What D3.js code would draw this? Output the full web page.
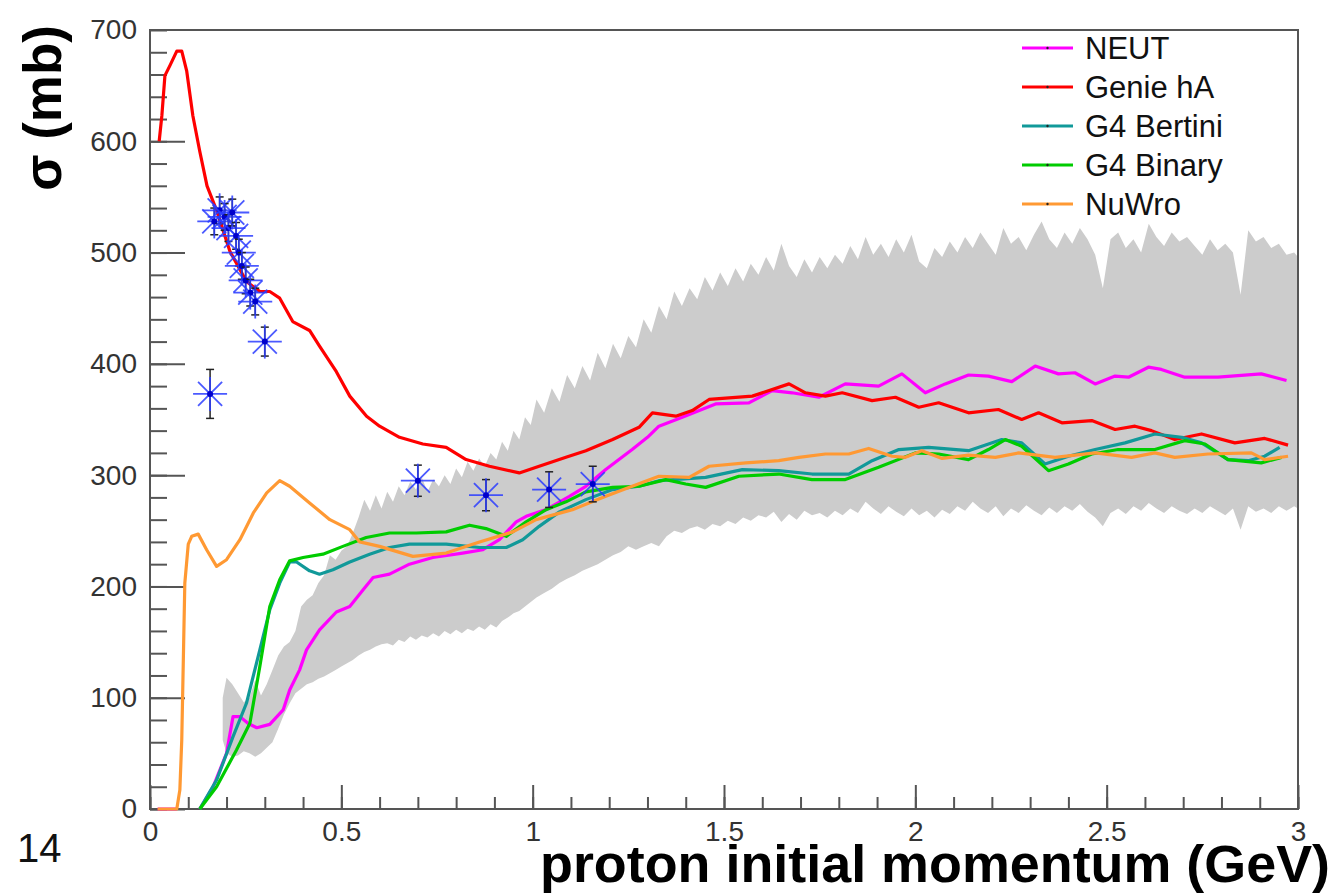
<!DOCTYPE html>
<html>
<head>
<meta charset="utf-8">
<script src="https://cdn.jsdelivr.net/npm/d3@7"></script>
<style>
  body { margin: 0; background: #fff; }
  svg { display: block; }
</style>
</head>
<body>
<script>
// x = proton momentum (GeV), y = sigma (mb)
var neut = [[0.02,0],[0.07,0],[0.1,null],[0.13,0],[0.165,20],[0.2,50],[0.217,83],[0.235,83],[0.256,77],[0.279,73],[0.313,76],
  [0.348,89],[0.365,107],[0.391,125],[0.409,143],[0.443,161],[0.487,177],[0.522,182],[0.557,197],[0.583,208],[0.626,211],
  [0.678,220],[0.739,226],[0.817,230],[0.87,233],[0.913,242],[0.957,258],[0.983,263],[1.035,269],[1.096,281],[1.139,290],
  [1.191,305],[1.26,323],[1.30,334],[1.33,344],[1.391,352],[1.478,364],[1.565,365],[1.626,376],[1.678,374],[1.748,370],
  [1.817,382],[1.904,380],[1.965,391],[2.026,374],[2.078,382],[2.139,390],[2.191,389],[2.252,384],[2.313,398],[2.374,391],
  [2.417,392],[2.470,382],[2.522,389],[2.557,388],[2.609,397],[2.643,395],[2.704,388],[2.791,388],[2.904,391],[2.970,385]];

var genie = [[0.024,600],[0.031,623],[0.039,659],[0.052,668],[0.07,681],[0.083,681],[0.096,663],[0.112,623],[0.13,591],
  [0.149,560],[0.175,537],[0.209,501],[0.252,474],[0.287,465],[0.313,465],[0.339,459],[0.373,438],[0.417,430],[0.443,416],
  [0.487,393],[0.522,371],[0.566,353],[0.60,344],[0.652,334],[0.713,328],[0.774,325],[0.826,314],[0.887,308],[0.965,302],
  [1.017,308],[1.087,316],[1.139,322],[1.209,332],[1.278,343],[1.313,356],[1.374,353],[1.417,358],[1.461,368],[1.574,371],
  [1.670,382],[1.713,374],[1.765,371],[1.809,374],[1.887,367],[1.948,370],[2.009,361],[2.061,365],[2.139,356],[2.217,359],
  [2.278,350],[2.322,356],[2.383,347],[2.461,349],[2.522,341],[2.574,344],[2.617,340],[2.678,332],[2.748,337],[2.835,329],
  [2.913,333],[2.974,327]];

var bertini = [[0.13,0],[0.174,26],[0.217,65],[0.252,95],[0.287,143],[0.313,179],[0.339,203],[0.365,222],[0.383,222],
  [0.417,214],[0.443,211],[0.478,215],[0.522,222],[0.574,229],[0.626,235],[0.678,238],[0.774,238],[0.861,235],[0.931,235],
  [0.974,242],[1.017,254],[1.07,267],[1.139,278],[1.209,287],[1.278,290],[1.33,295],[1.452,298],[1.548,305],[1.643,304],
  [1.730,301],[1.826,301],[1.887,313],[1.957,323],[2.035,325],[2.139,322],[2.226,332],[2.278,329],[2.339,310],[2.400,317],
  [2.470,323],[2.548,329],[2.626,337],[2.696,334],[2.748,329],[2.817,314],[2.870,313],[2.913,317],[2.952,325]];

var binary = [[0.13,0],[0.174,20],[0.226,53],[0.261,77],[0.287,128],[0.313,182],[0.339,206],[0.365,223],[0.4,226],
  [0.452,229],[0.504,236],[0.565,244],[0.626,248],[0.696,248],[0.774,249],[0.835,255],[0.878,252],[0.931,245],[0.983,258],
  [1.035,269],[1.087,276],[1.139,285],[1.209,289],[1.278,290],[1.348,296],[1.400,292],[1.452,289],[1.539,299],[1.643,301],
  [1.730,296],[1.817,296],[1.904,307],[2.000,320],[2.061,319],[2.139,314],[2.191,323],[2.235,332],[2.278,326],[2.348,304],
  [2.400,310],[2.461,319],[2.530,323],[2.626,323],[2.704,331],[2.757,328],[2.817,314],[2.904,311],[2.957,316]];

var nuwro = [[0.02,0],[0.07,0],[0.078,17],[0.083,62],[0.088,150],[0.091,203],[0.1,238],[0.109,245],[0.126,247],[0.148,233],
  [0.174,218],[0.2,224],[0.235,242],[0.27,266],[0.305,284],[0.339,295],[0.365,290],[0.417,275],[0.47,260],[0.522,251],
  [0.548,240],[0.6,236],[0.687,227],[0.774,230],[0.861,240],[0.948,249],[1.009,260],[1.104,269],[1.191,281],[1.26,290],
  [1.330,299],[1.409,298],[1.461,308],[1.557,311],[1.643,313],[1.696,316],[1.765,319],[1.826,319],[1.878,324],[1.939,317],
  [1.974,316],[2.017,322],[2.070,315],[2.139,318],[2.209,316],[2.270,320],[2.365,316],[2.470,320],[2.565,316],[2.626,320],
  [2.678,316],[2.765,319],[2.878,320],[2.913,314],[2.974,317]];

// grey band: [x, low, high]
var band = [[0.19,62,100],[0.20,50,118],[0.215,47,112],[0.23,48,104],[0.245,52,96],[0.26,50,100],[0.275,47,116],
  [0.29,50,102],[0.305,55,112],[0.32,60,125],[0.335,72,138],[0.35,85,146],[0.365,95,150],[0.38,104,160],[0.395,108,182],
  [0.41,112,188],[0.425,114,192],[0.44,117,203],[0.455,119,210],[0.47,122,228],[0.485,125,224],[0.50,128,232],
  [0.515,131,236],[0.53,134,248],[0.545,138,262],[0.56,141,278],[0.575,143,268],[0.59,146,282],[0.605,148,270],
  [0.62,149,285],[0.635,147,276],[0.65,152,290],[0.665,150,282],[0.68,155,294],[0.695,152,287],[0.71,156,298],
  [0.725,154,285],[0.74,158,296],[0.755,155,290],[0.77,160,300],[0.785,157,292],[0.80,161,306],[0.815,158,298],
  [0.83,162,312],[0.845,160,304],[0.86,164,315],[0.875,161,308],[0.89,166,320],[0.905,163,314],[0.92,169,330],
  [0.935,172,322],[0.95,176,340],[0.965,178,332],[0.98,182,352],[0.995,186,345],[1.01,190,368],[1.03,194,356],
  [1.05,198,378],[1.07,203,366],[1.09,207,390],[1.11,210,378],[1.13,214,398],[1.15,217,385],[1.17,220,410],
  [1.19,224,396],[1.21,228,418],[1.23,231,405],[1.25,236,425],[1.27,233,415],[1.29,236,440],[1.31,239,428],
  [1.33,236,452],[1.35,245,440],[1.37,250,465],[1.39,248,452],[1.41,252,468],[1.43,254,458],[1.45,251,478],
  [1.47,256,466],[1.49,254,482],[1.51,259,470],[1.53,256,486],[1.55,262,474],[1.57,259,490],[1.59,264,480],
  [1.61,262,496],[1.63,267,484],[1.65,258,508],[1.67,265,488],[1.69,260,478],[1.71,268,494],[1.73,264,482],
  [1.75,266,496],[1.77,262,486],[1.79,268,498],[1.81,264,490],[1.83,270,506],[1.85,266,494],[1.87,276,514],
  [1.89,270,498],[1.91,265,508],[1.93,272,496],[1.95,267,512],[1.97,263,500],[1.99,270,516],[2.01,264,492],
  [2.03,268,486],[2.05,262,504],[2.07,269,496],[2.09,265,510],[2.11,272,500],[2.13,268,514],[2.15,276,504],
  [2.17,270,518],[2.19,266,508],[2.21,272,498],[2.23,263,522],[2.25,270,508],[2.27,266,514],[2.29,273,502],
  [2.31,268,516],[2.33,264,528],[2.35,271,512],[2.37,266,504],[2.39,272,518],[2.41,268,508],[2.43,274,522],
  [2.45,267,512],[2.47,262,498],[2.49,254,468],[2.51,266,512],[2.53,270,518],[2.55,265,504],[2.57,272,512],
  [2.59,268,500],[2.61,275,526],[2.63,270,514],[2.65,266,506],[2.67,272,518],[2.69,268,510],[2.71,265,514],
  [2.73,270,506],[2.75,266,498],[2.77,272,512],[2.79,268,502],[2.81,264,508],[2.83,270,500],[2.85,251,462],
  [2.87,272,520],[2.89,267,510],[2.91,270,514],[2.93,266,504],[2.95,272,508],[2.97,268,498],[2.99,272,500],[3.0,270,496]];

// measured points: [x, sigma, error]
var dataPts = [[0.157,373,22],[0.168,528,12],[0.182,538,12],[0.195,532,12],[0.205,522,12],[0.215,536,12],[0.225,515,12],
  [0.232,500,12],[0.24,488,12],[0.25,475,12],[0.262,464,12],[0.275,456,12],[0.30,420,13],
  [0.70,295,14],[0.878,282,14],[1.043,287,16],[1.157,292,16]];

var seriesNames = ["NEUT", "Genie hA", "G4 Bertini", "G4 Binary", "NuWro"];
var seriesColors = ["#ff00ff", "#ff0000", "#119999", "#00cc00", "#ff9933"];
var seriesData = [neut, genie, bertini, binary, nuwro];

var xMajor = [0, 0.5, 1, 1.5, 2, 2.5, 3];
var xMinor = d3.range(0, 31).map(function(i) { return i / 10; });
var yMajor = d3.range(0, 701, 100);
var yMinor = d3.range(0, 701, 20);

var width = 1340, height = 893;
var plotLeft = 150, plotRight = 1298, plotTop = 30, plotBottom = 809;

var svg = d3.select("body").append("svg")
    .attr("width", width)
    .attr("height", height);

var x = d3.scaleLinear().domain([0, 3]).range([plotLeft, plotRight]);
var y = d3.scaleLinear().domain([0, 700]).range([plotBottom, plotTop]);

// grey band
svg.append("path")
    .datum(band)
    .attr("d", d3.area()
        .x(function(d) { return x(d[0]); })
        .y0(function(d) { return y(d[1]); })
        .y1(function(d) { return y(d[2]); }))
    .attr("fill", "#cccccc");

// axes
var axisColor = "#555";
var gxMinor = svg.append("g").attr("transform", "translate(0," + plotBottom + ")")
    .call(d3.axisBottom(x).tickValues(xMinor).tickSize(-12).tickFormat(""));
var gxMajor = svg.append("g").attr("transform", "translate(0," + plotBottom + ")")
    .call(d3.axisBottom(x).tickValues(xMajor).tickSize(-24).tickPadding(12)
        .tickFormat(function(d) { return d3.format("")(d); }));
var gyMinor = svg.append("g").attr("transform", "translate(" + plotLeft + ",0)")
    .call(d3.axisLeft(y).tickValues(yMinor).tickSize(-17).tickFormat(""));
var gyMajor = svg.append("g").attr("transform", "translate(" + plotLeft + ",0)")
    .call(d3.axisLeft(y).tickValues(yMajor).tickSize(-35).tickPadding(13));

[gxMinor, gxMajor, gyMinor, gyMajor].forEach(function(g) {
  g.select(".domain").remove();
  g.selectAll(".tick line").attr("stroke", axisColor).attr("stroke-width", 2);
  g.selectAll(".tick text")
      .attr("fill", "#333")
      .attr("font-family", "Liberation Sans, Arial, sans-serif")
      .attr("font-size", 28);
});
gyMajor.selectAll(".tick").filter(function(d) { return d === 700; }).select("line").remove();

// frame
svg.append("rect")
    .attr("x", plotLeft)
    .attr("y", plotTop)
    .attr("width", plotRight - plotLeft)
    .attr("height", plotBottom - plotTop)
    .attr("fill", "none")
    .attr("stroke", axisColor)
    .attr("stroke-width", 2);

// model curves
var line = d3.line()
    .defined(function(d) { return d[1] !== null; })
    .x(function(d) { return x(d[0]); })
    .y(function(d) { return y(d[1]); });

seriesData.forEach(function(s, i) {
  svg.append("path")
      .datum(s)
      .attr("d", line)
      .attr("fill", "none")
      .attr("stroke", seriesColors[i])
      .attr("stroke-width", 3.2)
      .attr("stroke-linejoin", "round");
});

// data points with error bars
var pts = svg.append("g").selectAll("g")
    .data(dataPts)
    .enter().append("g")
    .attr("transform", function(d) { return "translate(" + x(d[0]) + "," + y(d[1]) + ")"; });

pts.append("line")
    .attr("x1", 0).attr("x2", 0)
    .attr("y1", function(d) { return y(d[1] + d[2]) - y(d[1]); })
    .attr("y2", function(d) { return y(d[1] - d[2]) - y(d[1]); })
    .attr("stroke", "#222").attr("stroke-width", 1.5);
[1, -1].forEach(function(sgn) {
  pts.append("line")
      .attr("x1", -4).attr("x2", 4)
      .attr("y1", function(d) { return y(d[1] + sgn * d[2]) - y(d[1]); })
      .attr("y2", function(d) { return y(d[1] + sgn * d[2]) - y(d[1]); })
      .attr("stroke", "#222").attr("stroke-width", 1.5);
});
[0, 45, 90, 135].forEach(function(a) {
  pts.append("line")
      .attr("x1", -17).attr("x2", 17)
      .attr("y1", 0).attr("y2", 0)
      .attr("transform", "rotate(" + a + ")")
      .attr("stroke", "#2a3cff")
      .attr("stroke-opacity", 0.85)
      .attr("stroke-width", 1.8);
});
pts.append("circle").attr("r", 3).attr("fill", "#0000cc");

// legend
var legend = svg.append("g").selectAll("g")
    .data(seriesNames)
    .enter().append("g")
    .attr("transform", function(d, i) { return "translate(1022," + (48 + i * 39) + ")"; });
legend.append("line")
    .attr("x1", 0).attr("x2", 51)
    .attr("stroke", function(d, i) { return seriesColors[i]; })
    .attr("stroke-width", 3.2);
legend.append("circle").attr("cx", 25.5).attr("r", 1.2).attr("fill", "#222");
legend.append("text")
    .attr("x", 63)
    .attr("y", 11)
    .attr("font-family", "Liberation Sans, Arial, sans-serif")
    .attr("font-size", 31)
    .attr("fill", "#111")
    .text(function(d) { return d; });

// axis titles
svg.append("text")
    .attr("x", 1330)
    .attr("y", 882)
    .attr("text-anchor", "end")
    .attr("font-family", "Liberation Sans, Arial, sans-serif")
    .attr("font-weight", "bold")
    .attr("font-size", 51)
    .attr("textLength", 790)
    .attr("lengthAdjust", "spacingAndGlyphs")
    .attr("fill", "#000")
    .text("proton initial momentum (GeV)");

svg.append("text")
    .attr("transform", "translate(61,25) rotate(-90)")
    .attr("text-anchor", "end")
    .attr("font-family", "Liberation Sans, Arial, sans-serif")
    .attr("font-weight", "bold")
    .attr("font-size", 53)
    .attr("fill", "#000")
    .text("σ (mb)");

svg.append("text")
    .attr("x", 17)
    .attr("y", 862)
    .attr("font-family", "Liberation Sans, Arial, sans-serif")
    .attr("font-size", 40)
    .attr("fill", "#111")
    .text("14");
</script>
</body>
</html>
